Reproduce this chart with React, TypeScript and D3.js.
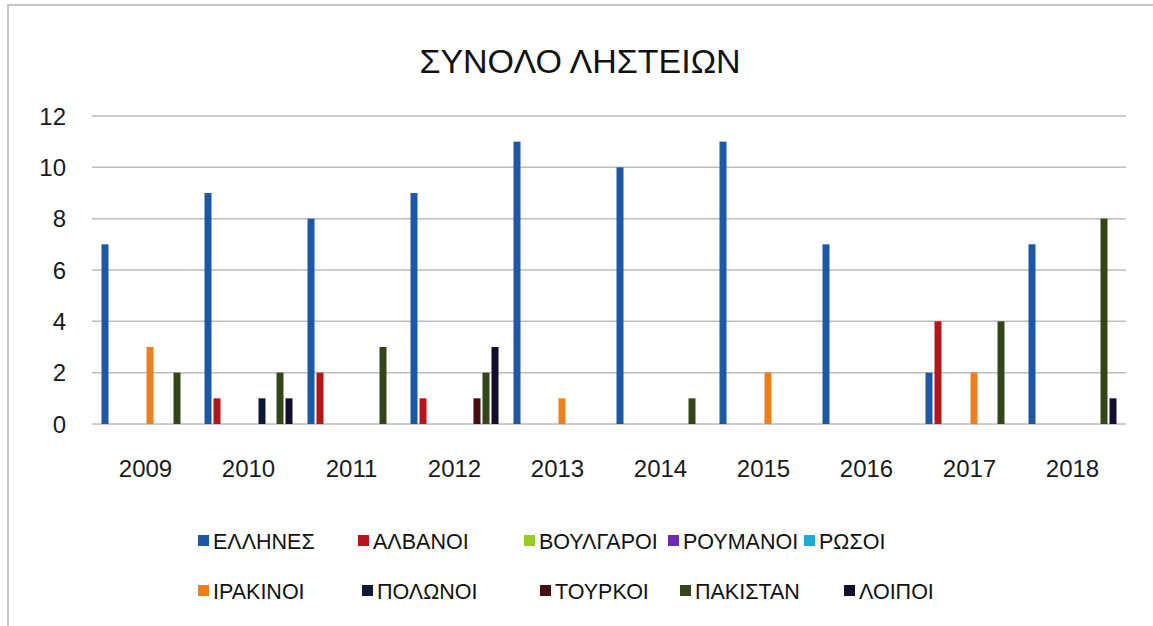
import * as d3 from "d3";

const years = ["2009", "2010", "2011", "2012", "2013", "2014", "2015", "2016", "2017", "2018"];

const seriesNames = [
  "ΕΛΛΗΝΕΣ", "ΑΛΒΑΝΟΙ", "ΒΟΥΛΓΑΡΟΙ", "ΡΟΥΜΑΝΟΙ", "ΡΩΣΟΙ",
  "ΙΡΑΚΙΝΟΙ", "ΠΟΛΩΝΟΙ", "ΤΟΥΡΚΟΙ", "ΠΑΚΙΣΤΑΝ", "ΛΟΙΠΟΙ",
];

const ellines = [7, 9, 8, 9, 11, 10, 11, 7, 2, 7];
const alvanoi = [0, 1, 2, 1, 0, 0, 0, 0, 4, 0];
const voulgaroi = [0, 0, 0, 0, 0, 0, 0, 0, 0, 0];
const roumanoi = [0, 0, 0, 0, 0, 0, 0, 0, 0, 0];
const rosoi = [0, 0, 0, 0, 0, 0, 0, 0, 0, 0];
const irakinoi = [3, 0, 0, 0, 1, 0, 2, 0, 2, 0];
const polonoi = [0, 1, 0, 0, 0, 0, 0, 0, 0, 0];
const tourkoi = [0, 0, 0, 1, 0, 0, 0, 0, 0, 0];
const pakistan = [2, 2, 3, 2, 0, 1, 0, 0, 4, 8];
const loipoi = [0, 1, 0, 3, 0, 0, 0, 0, 0, 1];

const seriesValues = [ellines, alvanoi, voulgaroi, roumanoi, rosoi, irakinoi, polonoi, tourkoi, pakistan, loipoi];

const yTicks = [0, 2, 4, 6, 8, 10, 12];

const colors = [
  "#1D58A6", "#B8141B", "#9BCB2B", "#6A2BB5", "#22A6D6",
  "#EE7F1E", "#0E1A33", "#4A0C10", "#33461A", "#140D2C",
];

// legend layout (two rows of five)
const legendX = [198, 358, 524, 668, 804, 198, 362, 540, 680, 844];
const legendRowY = [541, 591];

const W = 1153;
const H = 626;
const plotLeft = 94;
const plotRight = 1124;
const plotTop = 116;
const plotBottom = 424;

export default function App() {
  const x0 = d3.scaleBand<string>()
    .domain(years)
    .range([plotLeft, plotRight])
    .paddingInner(0.1456)
    .paddingOuter(0.0728);

  const x1 = d3.scaleBand<number>()
    .domain(d3.range(seriesNames.length))
    .range([0, x0.bandwidth()])
    .paddingInner(0.222);

  const y = d3.scaleLinear().domain([0, 12]).range([plotBottom, plotTop]);

  const font = "'Liberation Sans', Arial, sans-serif";

  return (
    <svg width={W} height={H} style={{ position: "absolute", left: 0, top: 0, background: "#fff" }}>
      <rect x={8} y={5} width={W + 10} height={H + 10} fill="#fff" stroke="#C6C6C6" strokeWidth={2} />

      <text x={580} y={73} textAnchor="middle" fontFamily={font} fontSize={34} fill="#111">
        ΣΥΝΟΛΟ ΛΗΣΤΕΙΩΝ
      </text>

      {yTicks.map((t) => (
        <g key={t}>
          <line x1={92} x2={1126} y1={y(t)} y2={y(t)} stroke="#BDBDBD" strokeWidth={1.5} />
          <text x={66} y={y(t) + 8.5} textAnchor="end" fontFamily={font} fontSize={24} fill="#1a1a1a">
            {t}
          </text>
        </g>
      ))}

      {years.map((yr, i) => (
        <g key={yr} transform={`translate(${x0(yr)},0)`}>
          {seriesValues.map((vals, s) =>
            vals[i] > 0 ? (
              <rect
                key={s}
                x={x1(s)}
                y={y(vals[i])}
                width={x1.bandwidth()}
                height={y(0) - y(vals[i])}
                fill={colors[s]}
              />
            ) : null
          )}
          <text
            x={x0.bandwidth() / 2}
            y={477}
            textAnchor="middle"
            fontFamily={font}
            fontSize={24}
            fill="#1a1a1a"
          >
            {yr}
          </text>
        </g>
      ))}

      {seriesNames.map((name, s) => {
        const lx = legendX[s];
        const ly = legendRowY[Math.floor(s / 5)];
        return (
          <g key={name}>
            <rect x={lx} y={ly - 6} width={11} height={11} fill={colors[s]} />
            <text x={lx + 15} y={ly + 8} fontFamily={font} fontSize={21.5} fill="#111">
              {name}
            </text>
          </g>
        );
      })}
    </svg>
  );
}
